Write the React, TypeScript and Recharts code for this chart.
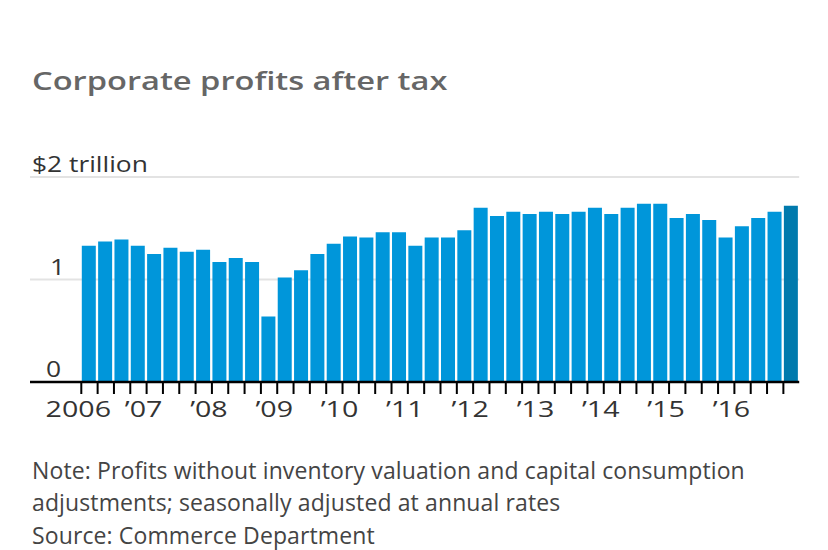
import React from 'react';
import { BarChart, Bar, Cell, XAxis, YAxis, CartesianGrid } from 'recharts';

const quarters = [
  '2006 Q1', '2006 Q2', '2006 Q3', '2006 Q4',
  '2007 Q1', '2007 Q2', '2007 Q3', '2007 Q4',
  '2008 Q1', '2008 Q2', '2008 Q3', '2008 Q4',
  '2009 Q1', '2009 Q2', '2009 Q3', '2009 Q4',
  '2010 Q1', '2010 Q2', '2010 Q3', '2010 Q4',
  '2011 Q1', '2011 Q2', '2011 Q3', '2011 Q4',
  '2012 Q1', '2012 Q2', '2012 Q3', '2012 Q4',
  '2013 Q1', '2013 Q2', '2013 Q3', '2013 Q4',
  '2014 Q1', '2014 Q2', '2014 Q3', '2014 Q4',
  '2015 Q1', '2015 Q2', '2015 Q3', '2015 Q4',
  '2016 Q1', '2016 Q2', '2016 Q3', '2016 Q4',
];

// trillions of dollars, seasonally adjusted annual rate
const profits = [
  1.33, 1.37, 1.39, 1.33,
  1.25, 1.31, 1.27, 1.29,
  1.17, 1.21, 1.17, 0.64,
  1.02, 1.09, 1.25, 1.35,
  1.42, 1.41, 1.46, 1.46,
  1.33, 1.41, 1.41, 1.48,
  1.70, 1.62, 1.66, 1.64,
  1.66, 1.64, 1.66, 1.70,
  1.64, 1.70, 1.74, 1.74,
  1.60, 1.64, 1.58, 1.41,
  1.52, 1.60, 1.66, 1.72,
];

const yearLabels: Record<string, string> = {
  '2006 Q1': '2006',
  '2007 Q1': '’07',
  '2008 Q1': '’08',
  '2009 Q1': '’09',
  '2010 Q1': '’10',
  '2011 Q1': '’11',
  '2012 Q1': '’12',
  '2013 Q1': '’13',
  '2014 Q1': '’14',
  '2015 Q1': '’15',
  '2016 Q1': '’16',
};

const yTicks = [0, 1, 2];
const yLabels: Record<number, string> = { 0: '0', 1: '1', 2: '$2 trillion' };

const data = quarters.map((q, i) => ({ quarter: q, value: profits[i] }));

const FONT = '"Open Sans", "Noto Sans", sans-serif';
const BAR = '#0096da';
const BAR_LAST = '#007aad';
const PLOT_LEFT = 30;
const BAND_LEFT = 80.8;
const BAND_RIGHT = 799.2;
const BAND = (BAND_RIGHT - BAND_LEFT) / quarters.length;

const XTick = (props: any) => {
  const { x, y, payload } = props;
  const edge = x - BAND / 2 + 0.5;
  const label = yearLabels[payload.value];
  return (
    <g>
      <line x1={edge} x2={edge} y1={y} y2={y + 12} stroke="#000" strokeWidth={2} />
      {label && (
        <text
          transform={`translate(${edge - 3},${y + 35}) scale(1.3,1)`}
          textAnchor="middle"
          fontFamily={FONT}
          fontSize={22}
          fill="#333"
        >
          {label}
        </text>
      )}
    </g>
  );
};

const YTick = (props: any) => {
  const { y, payload } = props;
  const v = payload.value as number;
  const x = v === 2 ? 32 : v === 1 ? 65 : 61;
  return (
    <text
      transform={`translate(${x},${y - 5}) scale(1.2,1)`}
      textAnchor={v === 2 ? 'start' : 'end'}
      fontFamily={FONT}
      fontSize={22}
      fill="#333"
    >
      {yLabels[v]}
    </text>
  );
};

export default function App() {
  return (
    <div style={{ position: 'absolute', left: 0, top: 0, width: 828, height: 550, background: '#fff', fontFamily: FONT }}>
      <div
        style={{
          position: 'absolute',
          left: 32,
          top: 67,
          fontSize: 26,
          lineHeight: '26px',
          fontWeight: 600,
          color: '#666',
          whiteSpace: 'nowrap',
          transform: 'scaleX(1.255)',
          transformOrigin: 'left top',
        }}
      >
        Corporate profits after tax
      </div>
      <div style={{ position: 'absolute', left: 0, top: 0 }}>
        <BarChart
          width={828}
          height={550}
          data={data}
          margin={{ top: 177, right: 828 - BAND_RIGHT, bottom: 128, left: PLOT_LEFT - 1 }}
        >
          <CartesianGrid horizontal vertical={false} stroke="#e3e3e3" strokeWidth={2} />
          <YAxis
            width={1}
            domain={[0, 2]}
            ticks={yTicks}
            axisLine={false}
            tickLine={false}
            tick={<YTick />}
          />
          <XAxis
            dataKey="quarter"
            height={40}
            interval={0}
            padding={{ left: BAND_LEFT - PLOT_LEFT, right: 0 }}
            axisLine={{ stroke: '#000', strokeWidth: 2.5 }}
            tickLine={false}
            tickSize={0}
            tickMargin={0}
            tick={<XTick />}
          />
          <Bar dataKey="value" barSize={14} isAnimationActive={false}>
            {data.map((d, i) => (
              <Cell key={d.quarter} fill={i === data.length - 1 ? BAR_LAST : BAR} />
            ))}
          </Bar>
        </BarChart>
      </div>
      <div
        style={{
          position: 'absolute',
          left: 32,
          top: 454,
          fontSize: 23,
          lineHeight: '32.3px',
          letterSpacing: 0.12,
          color: '#444',
          whiteSpace: 'nowrap',
        }}
      >
        <div>Note: Profits without inventory valuation and capital consumption</div>
        <div>adjustments; seasonally adjusted at annual rates</div>
        <div>Source: Commerce Department</div>
      </div>
    </div>
  );
}
